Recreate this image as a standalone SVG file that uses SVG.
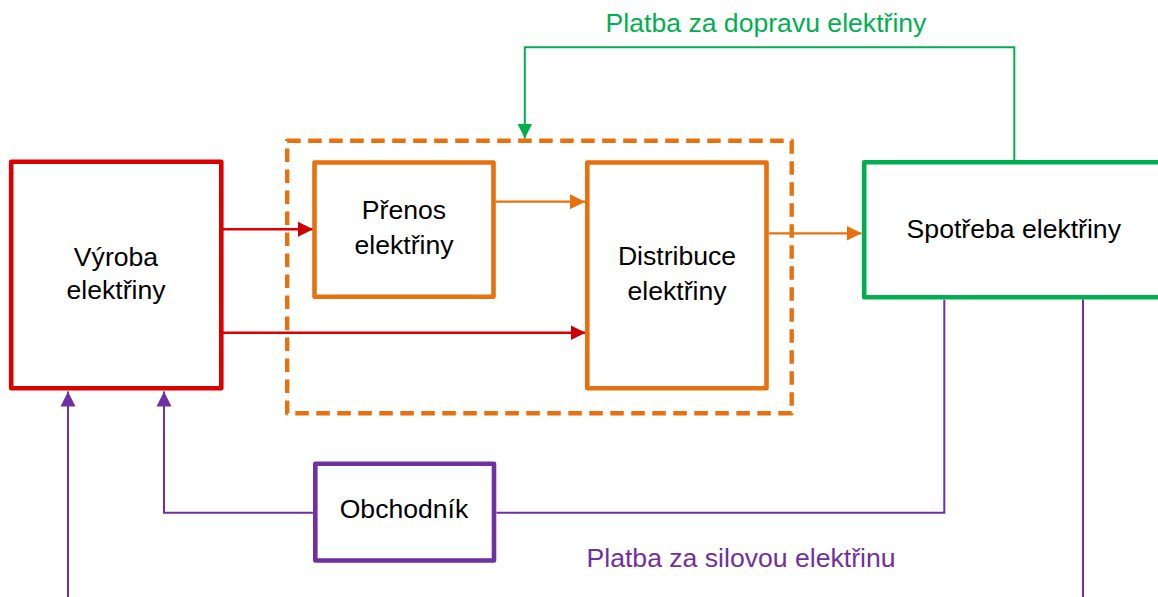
<svg xmlns="http://www.w3.org/2000/svg" width="1158" height="597" viewBox="0 0 1158 597">
  <style>
    .box { fill: #FFFFFF; stroke-width: 4.6; stroke-linejoin: round; }
    .lbl { font-family: "Liberation Sans", Arial, sans-serif; font-size: 26.6px; fill: #000000; text-anchor: middle; }
    .flow { fill: none; stroke-linejoin: miter; }
    .red { stroke: #DC0000; }
    .orange { stroke: #E8710F; }
    .green { stroke: #00B050; }
    .purple { stroke: #7030A0; }
  </style>
  <defs>
    <marker id="ah-red" markerUnits="userSpaceOnUse" markerWidth="16" markerHeight="16" refX="15" refY="8" orient="auto">
      <path d="M0,0.5 L15,8 L0,15.5 Z" fill="#CC0000"/>
    </marker>
    <marker id="ah-orange" markerUnits="userSpaceOnUse" markerWidth="16" markerHeight="16" refX="15" refY="8" orient="auto">
      <path d="M0,0.5 L15,8 L0,15.5 Z" fill="#E8710F"/>
    </marker>
    <marker id="ah-green" markerUnits="userSpaceOnUse" markerWidth="16" markerHeight="16" refX="15" refY="8" orient="auto">
      <path d="M0,0.5 L15,8 L0,15.5 Z" fill="#00B050"/>
    </marker>
    <marker id="ah-purple" markerUnits="userSpaceOnUse" markerWidth="16" markerHeight="16" refX="15" refY="8" orient="auto">
      <path d="M0,0.5 L15,8 L0,15.5 Z" fill="#7030A0"/>
    </marker>
  </defs>

  <rect width="1158" height="597" fill="#FFFFFF"/>

  <!-- transport system boundary -->
  <g id="transport-boundary">
    <rect x="287.2" y="140.7" width="504.5" height="272.6" fill="none" stroke="#E8710F" stroke-width="4.4" stroke-dasharray="13.5 7.5" stroke-linejoin="round"/>
  </g>

  <g id="connectors">
    <!-- energy flows -->
    <line class="flow red" x1="223" y1="229.3" x2="313" y2="229.3" stroke-width="2.6" marker-end="url(#ah-red)"/>
    <line class="flow red" x1="223" y1="332.7" x2="585.5" y2="332.7" stroke-width="2.6" marker-end="url(#ah-red)"/>
    <line class="flow orange" x1="495.5" y1="201.7" x2="585" y2="201.7" stroke-width="2.2" marker-end="url(#ah-orange)"/>
    <line class="flow orange" x1="768.6" y1="233.3" x2="861.5" y2="233.3" stroke-width="2.2" marker-end="url(#ah-orange)"/>
    <!-- payments -->
    <polyline class="flow green" points="1014.3,160 1014.3,47.3 524.8,47.3 524.8,138.5" stroke-width="2" marker-end="url(#ah-green)"/>
    <polyline class="flow purple" points="313,512.7 164,512.7 164,391.5" stroke-width="2" marker-end="url(#ah-purple)"/>
    <polyline class="flow purple" points="496.4,512.7 944.3,512.7 944.3,299.5" stroke-width="2"/>
    <line class="flow purple" x1="68" y1="597" x2="68" y2="391.5" stroke-width="2" marker-end="url(#ah-purple)"/>
    <line class="flow purple" x1="1083" y1="299.5" x2="1083" y2="597" stroke-width="2"/>
  </g>

  <g id="vyroba">
    <rect class="box" x="11.2" y="161.7" width="210.1" height="226.6" stroke="#DC0000"/>
    <text class="lbl" x="116" y="265.5">Výroba</text>
    <text class="lbl" x="116" y="299">elektřiny</text>
  </g>

  <g id="prenos">
    <rect class="box" x="314.5" y="162.5" width="179" height="134.2" stroke="#E8710F"/>
    <text class="lbl" x="404" y="219">Přenos</text>
    <text class="lbl" x="404" y="253.8">elektřiny</text>
  </g>

  <g id="distribuce">
    <rect class="box" x="587.3" y="162.5" width="179.2" height="225.8" stroke="#E8710F"/>
    <text class="lbl" x="677" y="264.8">Distribuce</text>
    <text class="lbl" x="677" y="299.5">elektřiny</text>
  </g>

  <g id="spotreba">
    <rect class="box" x="864.2" y="162.2" width="298" height="135" stroke="#00B050"/>
    <text class="lbl" x="1013.8" y="237.8">Spotřeba elektřiny</text>
  </g>

  <g id="obchodnik">
    <rect class="box" x="315.3" y="463.8" width="178.7" height="96.7" stroke="#7030A0"/>
    <text class="lbl" x="404" y="518">Obchodník</text>
  </g>

  <!-- payment labels -->
  <g id="payment-labels">
    <text class="lbl" x="766" y="31.5" style="fill:#00B050">Platba za dopravu elektřiny</text>
    <text class="lbl" x="741" y="567" style="fill:#7030A0">Platba za silovou elektřinu</text>
  </g>
</svg>
